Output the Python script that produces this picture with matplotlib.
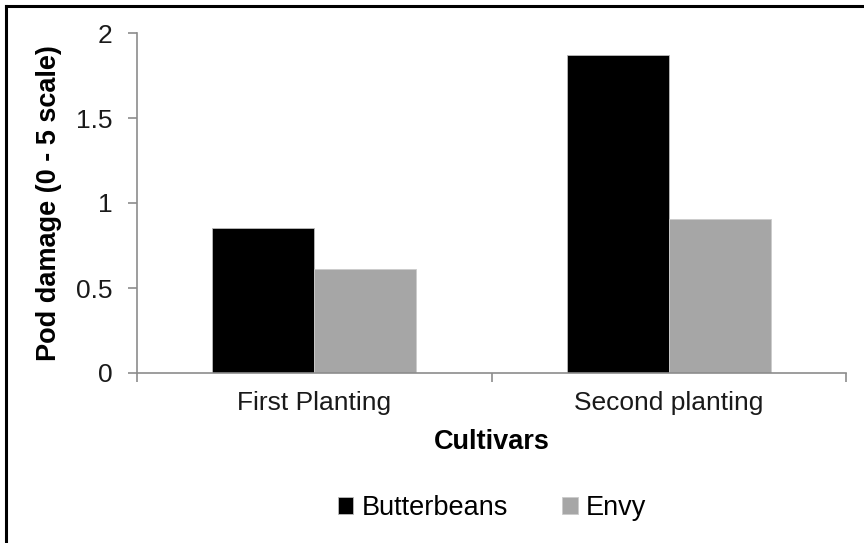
import matplotlib

matplotlib.use("Agg")
import matplotlib.pyplot as plt
import numpy as np
from matplotlib.lines import Line2D

plt.rcParams["font.family"] = ["Liberation Sans", "DejaVu Sans"]

categories = ["First Planting", "Second planting"]
butterbeans = [0.855, 1.87]
envy = [0.614, 0.908]
series_names = ["Butterbeans", "Envy"]
series_colors = ["#000000", "#a6a6a6"]
y_ticks = [0, 0.5, 1, 1.5, 2]
y_tick_labels = ["0", "0.5", "1", "1.5", "2"]

fig = plt.figure(figsize=(8.64, 5.43), dpi=100)
ax = fig.add_axes([137 / 864, 1 - 373 / 543, 709 / 864, 340 / 543])

x = np.arange(len(categories)) + 0.5
width = 0.288
ax.bar(x - width / 2, butterbeans, width, color=series_colors[0],
       edgecolor="#bbbbbb", linewidth=0.6, label=series_names[0])
ax.bar(x + width / 2, envy, width, color=series_colors[1],
       edgecolor="#cccccc", linewidth=0.6, label=series_names[1])

ax.set_xlim(0, len(categories))
ax.set_ylim(0, 2)
ax.set_yticks(y_ticks)
ax.set_yticklabels(y_tick_labels)
ax.set_xticks(x)
ax.set_xticklabels(categories)
ax.set_xticks(np.arange(len(categories) + 1), minor=True)

for side in ["top", "right"]:
    ax.spines[side].set_visible(False)
for side in ["left", "bottom"]:
    ax.spines[side].set_color("#8c8c8c")
    ax.spines[side].set_linewidth(1.2)

ax.tick_params(axis="y", length=6.5, width=1.2, color="#8c8c8c",
               labelsize=19, pad=11, labelcolor="#1a1a1a")
ax.tick_params(axis="x", which="major", length=0, labelsize=19, pad=13,
               labelcolor="#1a1a1a")
ax.tick_params(axis="x", which="minor", length=6.5, width=1.2, color="#8c8c8c")

ax.set_ylabel("Pod damage (0 - 5 scale)", fontsize=19.5, fontweight="bold",
              labelpad=10)
ax.set_xlabel("Cultivars", fontsize=19.5, fontweight="bold", labelpad=10)

ax.legend(loc="center", bbox_to_anchor=(492 / 864, 1 - 508 / 543),
          bbox_transform=fig.transFigure, ncol=2, frameon=False, fontsize=19.5,
          handlelength=0.57, handleheight=0.57, handletextpad=0.3,
          columnspacing=2.0, borderpad=0)

# outer frame from the original screenshot (top and left edges only)
fig.add_artist(Line2D([6 / 864, 6 / 864], [0, 1 - 6 / 543],
                      transform=fig.transFigure, color="black", linewidth=2.2))
fig.add_artist(Line2D([6 / 864, 1], [1 - 6 / 543, 1 - 6 / 543],
                      transform=fig.transFigure, color="black", linewidth=2.2))

fig.savefig("out.png", dpi=100)
